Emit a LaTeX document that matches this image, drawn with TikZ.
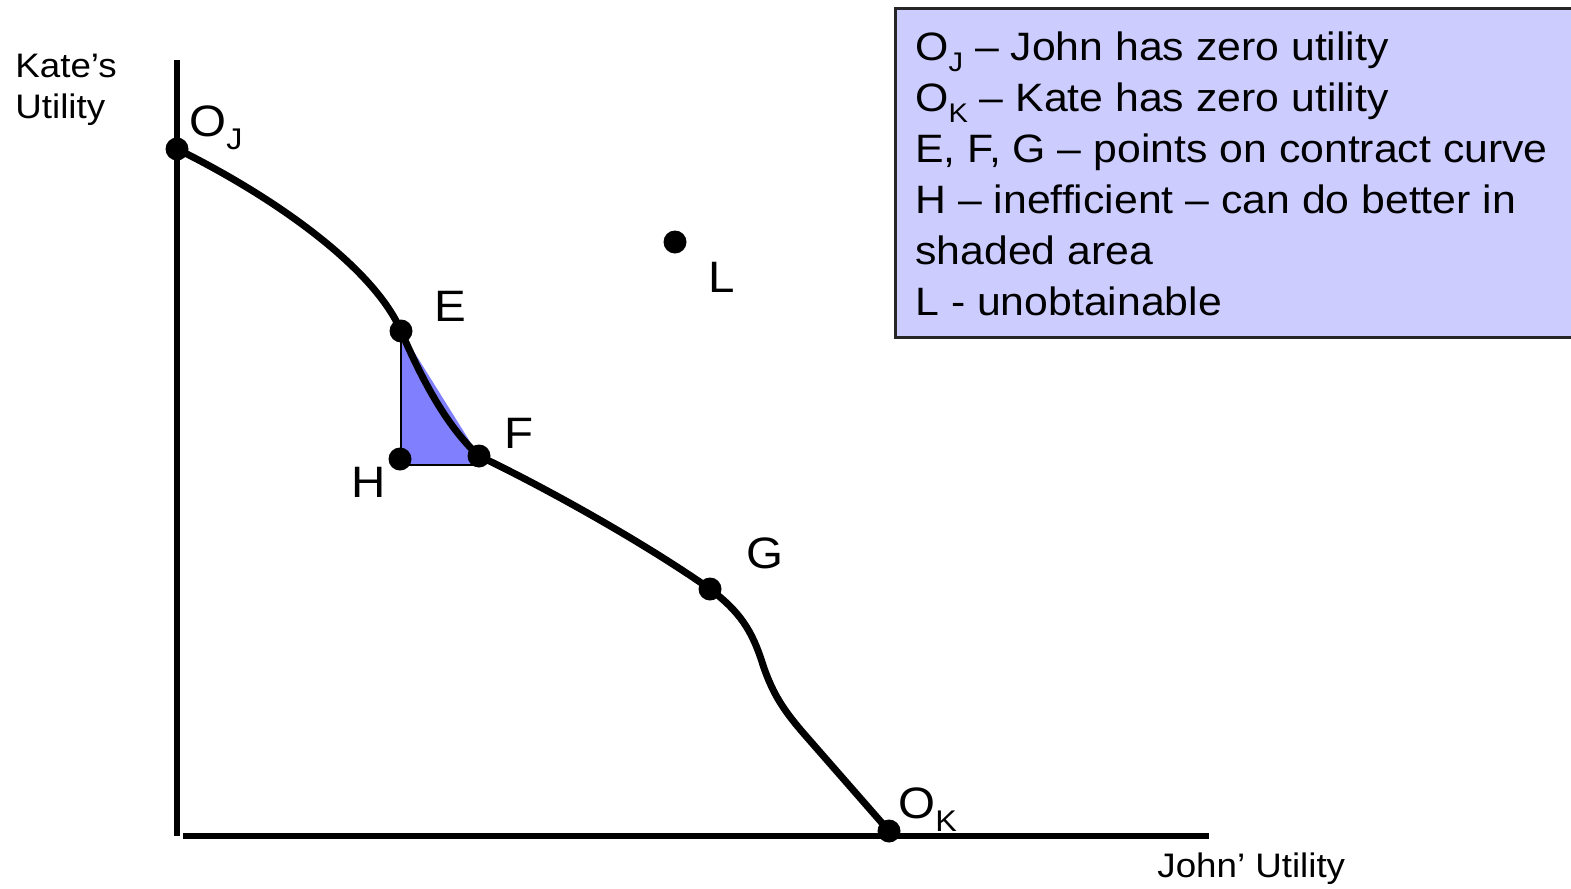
\documentclass[tikz,border=0pt]{standalone}
\usepackage{fontspec}
\usepackage{graphicx}
\setmainfont{Liberation Sans}[FakeStretch=1.08]
\definecolor{boxfill}{HTML}{CCCCFF}
\definecolor{shadefill}{HTML}{8080FF}
\newcommand\lowsub[1]{\raisebox{-0.3em}{\scalebox{0.68}{#1}}}
\begin{document}
\begin{tikzpicture}[x=0.5pt,y=-0.5pt,
  dot/.style={circle,fill=black,inner sep=0pt,minimum size=11.5pt},
  boxtxt/.style={anchor=base west,inner sep=0pt,font=\fontsize{19.8}{24}\selectfont},
  ptlabel/.style={anchor=base west,inner sep=0pt,font=\fontsize{22}{26}\selectfont},
  axlabel/.style={anchor=base west,inner sep=0pt,font=\fontsize{17}{20}\selectfont},
  curveline/.style={line width=3.5pt,line join=round},
  axisline/.style={line width=3pt}]
\path[use as bounding box,clip] (0,0) rectangle (1571,889);

% legend box
\draw[fill=boxfill,draw=black!85,line width=1.5pt] (895,8) rectangle (1600,337);
\node[boxtxt] (t1) at (915,60) {O\lowsub{J} – John has zero utility};
\node[boxtxt] (t2) at (915,111) {O\lowsub{K} – Kate has zero utility};
\node[boxtxt] (t3) at (915,162) {E, F, G – points on contract curve};
\node[boxtxt] (t4) at (915,213) {H – inefficient – can do better in};
\node[boxtxt] (t5) at (915,264) {shaded area};
\node[boxtxt] (t6) at (915,315) {L - unobtainable};

% axes
\coordinate (ytop) at (177,60);
\coordinate (ybot) at (177,836);
\coordinate (xa) at (183,836);
\coordinate (xb) at (1209,836);
\draw[axisline] (ytop) -- (ybot);
\draw[axisline] (xa) -- (xb);

% points
\coordinate (pOJ) at (177,149);
\coordinate (pE) at (401,331);
\coordinate (pF) at (479,456);
\coordinate (pG) at (710,589);
\coordinate (pOK) at (889,831);
\coordinate (pH) at (400,459);
\coordinate (pL) at (675,242);
\coordinate (cH) at (401,465);
\coordinate (cF) at (477,465);

% shaded area
\fill[shadefill] (pE) -- (cH) -- (cF) -- (pF) -- cycle;
\draw[line width=1.1pt] (pE) -- (cH) -- (cF);

% contract curve
\draw[curveline] (pOJ) .. controls (280,200) and (375,270) .. (pE)
  .. controls (420,375) and (445,425) .. (pF)
  .. controls (540,485) and (640,540) .. (pG)
  .. controls (740,612) and (752,630) .. (763,665)
  .. controls (773,695) and (785,712) .. (805,735) -- (pOK);

% dots
\node[dot] (dOJ) at (pOJ) {};
\node[dot] (dE) at (pE) {};
\node[dot] (dF) at (pF) {};
\node[dot] (dG) at (pG) {};
\node[dot] (dOK) at (pOK) {};
\node[dot] (dH) at (pH) {};
\node[dot] (dL) at (pL) {};

% point labels
\node[ptlabel] (lOJ) at (189,136) {O\lowsub{J}};
\node[ptlabel] (lE) at (434,321) {E};
\node[ptlabel] (lF) at (504,448) {F};
\node[ptlabel] (lH) at (351,497) {H};
\node[ptlabel] (lG) at (746,568) {G};
\node[ptlabel] (lL) at (708,292) {L};
\node[ptlabel] (lOK) at (898,818) {O\lowsub{K}};

% axis labels
\node[axlabel] (k1) at (15,77) {Kate’s};
\node[axlabel] (k2) at (15,118) {Utility};
\node[axlabel] (j1) at (1157,877) {John’ Utility};
\end{tikzpicture}
\end{document}
